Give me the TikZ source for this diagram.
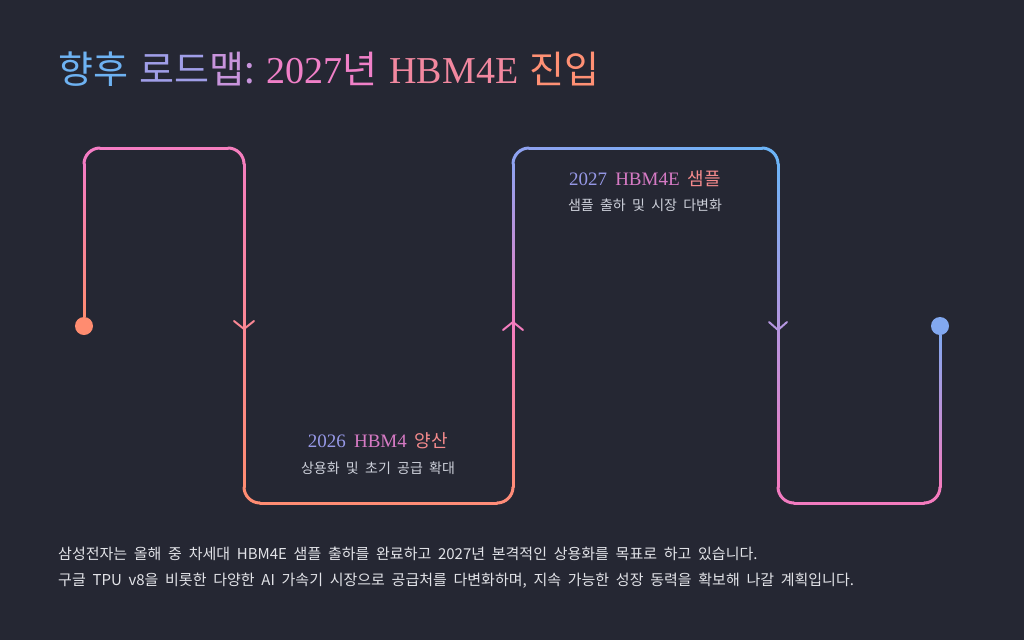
\documentclass[tikz,border=0pt]{standalone}
\usepackage{fontspec}
\usetikzlibrary{calc}
\setmainfont{Noto Sans CJK KR}[WordSpace=2]
\newfontfamily\latin{Liberation Serif}[WordSpace=1.6]
\definecolor{myBg}{RGB}{37,39,51}
\definecolor{myGrey}{RGB}{205,208,218}
\definecolor{noteGrey}{RGB}{226,227,232}
\definecolor{colstart}{RGB}{255,140,112}
\definecolor{colc1}{RGB}{244,124,196}
\definecolor{colc2}{RGB}{245,126,190}
\definecolor{cola1}{RGB}{250,135,148}
\definecolor{colc3}{RGB}{255,140,114}
\definecolor{colc4}{RGB}{255,140,120}
\definecolor{cola2}{RGB}{244,125,190}
\definecolor{colc5}{RGB}{143,162,240}
\definecolor{colc6}{RGB}{109,180,247}
\definecolor{cola3}{RGB}{181,150,224}
\definecolor{colc7}{RGB}{241,123,192}
\definecolor{colc8}{RGB}{244,123,190}
\definecolor{colfinish}{RGB}{130,168,240}
\definecolor{tBlue}{RGB}{110,178,242}
\definecolor{tLav}{RGB}{160,158,232}
\definecolor{tMauve}{RGB}{200,148,220}
\definecolor{tPink}{RGB}{240,128,200}
\definecolor{tRose}{RGB}{242,136,160}
\definecolor{tCoral}{RGB}{255,144,116}
\definecolor{hBlue}{RGB}{150,152,230}
\definecolor{hPink}{RGB}{214,122,196}
\definecolor{hCoral}{RGB}{245,138,140}

\begin{document}
\begin{tikzpicture}[x=1pt,y=-1pt,
    trail/.style={line width=3pt, line cap=round},
    chevron/.style={line width=2pt, line cap=round, line join=round},
    dot/.style={circle, minimum size=18pt, inner sep=0pt},
    heading/.style={anchor=base, inner sep=0pt, font=\fontsize{18}{22}\selectfont},
    caption/.style={anchor=base, inner sep=0pt, text=myGrey, font=\fontsize{14}{18}\selectfont},
    remark/.style={anchor=base west, inner sep=0pt, text=noteGrey, font=\fontsize{15}{20}\selectfont}]

\fill[myBg] (0,0) rectangle (1024,640);

\node[anchor=base west, inner sep=0pt, font=\fontsize{38}{42}\selectfont] (title) at (58,83)
  {\textcolor{tBlue}{향후}\hspace{11pt}\textcolor{tLav}{로드}\textcolor{tMauve}{맵:}\hspace{12pt}\textcolor{tPink}{{\latin 2027}년}\hspace{12pt}\textcolor{tRose}{\latin HBM4E}\hspace{11pt}\textcolor{tCoral}{진입}};

\node[dot, fill=colstart] (start) at (84,326) {};
\node[dot, fill=colfinish] (finish) at (940,326) {};
\coordinate (c1) at (84,148);
\coordinate (c2) at (244,148);
\coordinate (a1) at (244,326);
\coordinate (c3) at (244,503);
\coordinate (c4) at (513,503);
\coordinate (a2) at (513,326);
\coordinate (c5) at (513,148);
\coordinate (c6) at (778,148);
\coordinate (a3) at (778,326);
\coordinate (c7) at (778,503);
\coordinate (c8) at (940,503);

\foreach \here/\there/\cutA/\cutB in {start/c1/9pt/16pt, c1/c2/16pt/16pt, c2/a1/16pt/0pt, a1/c3/0pt/16pt,
    c3/c4/16pt/16pt, c4/a2/16pt/0pt, a2/c5/0pt/16pt, c5/c6/16pt/16pt, c6/a3/16pt/0pt, a3/c7/0pt/16pt,
    c7/c8/16pt/16pt, c8/finish/16pt/9pt}
{
  \coordinate (p) at ($(\here)!\cutA!(\there)$);
  \coordinate (q) at ($(\there)!\cutB!(\here)$);
  \foreach \k in {0,...,23}{
    \pgfmathsetmacro\ka{\k/24}
    \pgfmathsetmacro\kb{(\k+1)/24}
    \pgfmathsetmacro\mix{100*(\k+0.5)/24}
    \draw[trail, color={col\there!\mix!col\here}] ($(p)!\ka!(q)$) -- ($(p)!\kb!(q)$);
  }
}

\foreach \prev/\here/\next in {start/c1/c2, c1/c2/a1, a1/c3/c4, c3/c4/a2, a2/c5/c6, c5/c6/a3, a3/c7/c8, c7/c8/finish}
  \draw[trail, color=col\here] ($(\here)!16pt!(\prev)$) .. controls ($(\here)!7.2pt!(\prev)$) and ($(\here)!7.2pt!(\next)$) .. ($(\here)!16pt!(\next)$);

\draw[chevron, cola1] ($(a1)+(-10,-5)$) -- ($(a1)+(0,3)$) -- ($(a1)+(10,-5)$);
\draw[chevron, cola2] ($(a2)+(-10,4)$) -- ($(a2)+(0,-4)$) -- ($(a2)+(10,4)$);
\draw[chevron, cola3] ($(a3)+(-9,-4)$) -- ($(a3)+(0,4)$) -- ($(a3)+(9,-4)$);

\node[heading] (yearA) at (378,447) {\textcolor{hBlue}{\latin\fontsize{19}{22}\selectfont 2026} \textcolor{hPink}{\latin\fontsize{19}{22}\selectfont HBM4} \textcolor{hCoral}{양산}};
\node[caption] (stepA) at (378,473) {상용화 및 초기 공급 확대};
\node[heading] (yearB) at (645,185) {\textcolor{hBlue}{\latin\fontsize{19}{22}\selectfont 2027} \textcolor{hPink}{\latin\fontsize{19}{22}\selectfont HBM4E} \textcolor{hCoral}{샘플}};
\node[caption] (stepB) at (645,210) {샘플 출하 및 시장 다변화};

\node[remark] (note1) at (58,559) {삼성전자는 올해 중 차세대 HBM4E 샘플 출하를 완료하고 2027년 본격적인 상용화를 목표로 하고 있습니다.};
\node[remark] (note2) at (58,585) {구글 TPU v8을 비롯한 다양한 AI 가속기 시장으로 공급처를 다변화하며, 지속 가능한 성장 동력을 확보해 나갈 계획입니다.};
\end{tikzpicture}
\end{document}
